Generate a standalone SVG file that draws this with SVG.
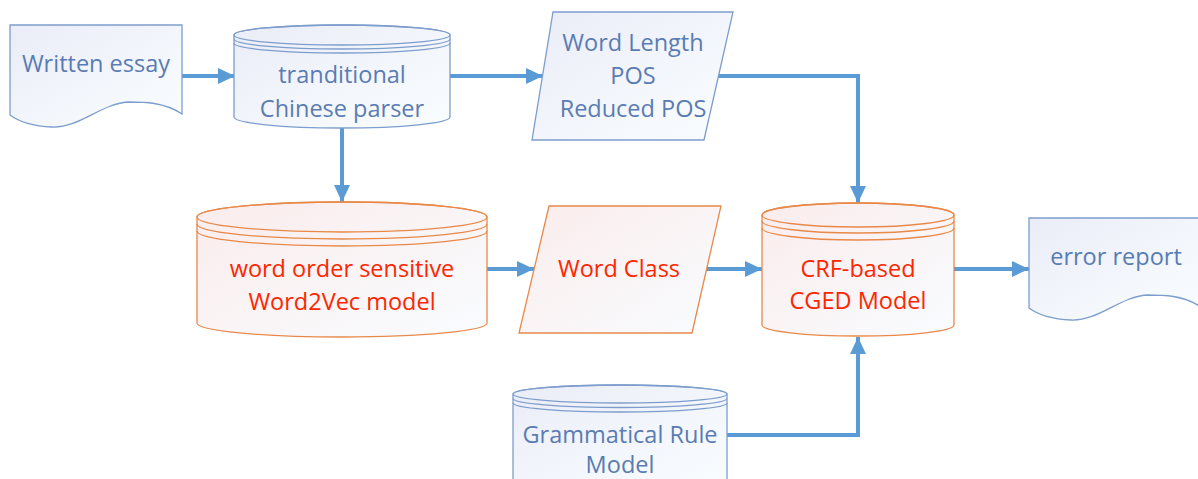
<svg xmlns="http://www.w3.org/2000/svg" width="1198" height="479" viewBox="0 0 1198 479">
<defs>
<linearGradient id="gb" x1="0" y1="0" x2="1" y2="1"><stop offset="0" stop-color="#EAEDF7"/><stop offset="1" stop-color="#FAFDFF"/></linearGradient>
<linearGradient id="go" x1="0" y1="0" x2="1" y2="1"><stop offset="0" stop-color="#FBECEC"/><stop offset="1" stop-color="#F8FCFF"/></linearGradient>
<marker id="ah" markerUnits="userSpaceOnUse" markerWidth="18" markerHeight="16" refX="17" refY="8" orient="auto"><path d="M0,0 L17,8 L0,16 z" fill="#5B9BD5"/></marker>
<style>
.b{fill:url(#gb);stroke:#7D9DCC;stroke-width:1.3}
.o{fill:url(#go);stroke:#E8894A;stroke-width:1.3}
.bl{fill:none;stroke:#7D9DCC;stroke-width:1.3}
.ol{fill:none;stroke:#E8894A;stroke-width:1.3}
.tb{font-family:"Open Sans","Liberation Sans",sans-serif;font-size:23.5px;fill:#5A7CB2;text-anchor:middle}
.tr{font-family:"Open Sans","Liberation Sans",sans-serif;font-size:23.5px;fill:#FF2600;text-anchor:middle}
.c{fill:none;stroke:#5B9BD5;stroke-width:4;marker-end:url(#ah)}
</style>
</defs>
<g id="connectors">
<path class="c" d="M182,76 H235"/>
<path class="c" d="M342,128 V202"/>
<path class="c" d="M450,76 H543"/>
<path class="c" d="M718,76 H858 V203"/>
<path class="c" d="M487,269 H534"/>
<path class="c" d="M706,269 H762"/>
<path class="c" d="M954,269 H1029"/>
<path class="c" d="M727,435 H858 V337"/>
</g>
<g id="written-essay">
<path class="b" d="M10,25 H182 V114 C164,102 144,102 128,102 C100,104 80,128 52,127 C30,126 18,121 10,115 Z"/>
<text class="tb" x="96" y="72">Written essay</text>
</g>
<g id="parser">
<path class="b" d="M234,35 V117 A108,11 0 0 0 450,117 V35 A108,10 0 0 0 234,35 Z"/>
<ellipse class="bl" cx="342" cy="35" rx="108" ry="10"/>
<path class="bl" d="M234,39 A108,10 0 0 0 450,39 M234,43 A108,10 0 0 0 450,43"/>
<text class="tb" x="342" y="83">tranditional</text>
<text class="tb" x="342" y="117">Chinese parser</text>
</g>
<g id="features">
<polygon class="b" points="553,12 733,12 704,140 532,140"/>
<text class="tb" x="633" y="51">Word Length</text>
<text class="tb" x="633" y="84">POS</text>
<text class="tb" x="633" y="117">Reduced POS</text>
</g>
<g id="word2vec">
<path class="o" d="M197,217 V323 A145,14 0 0 0 487,323 V217 A145,15 0 0 0 197,217 Z"/>
<ellipse class="ol" cx="342" cy="217" rx="145" ry="15"/>
<path class="ol" d="M197,224 A145,15 0 0 0 487,224 M197,231 A145,15 0 0 0 487,231"/>
<text class="tr" x="342" y="277">word order sensitive</text>
<text class="tr" x="342" y="310">Word2Vec model</text>
</g>
<g id="word-class">
<polygon class="o" points="549,206 721,206 692,333 519,333"/>
<text class="tr" x="619" y="277">Word Class</text>
</g>
<g id="cged">
<path class="o" d="M762,215 V325 A96,11 0 0 0 954,325 V215 A96,12 0 0 0 762,215 Z"/>
<ellipse class="ol" cx="858" cy="215" rx="96" ry="12"/>
<path class="ol" d="M762,221 A96,12 0 0 0 954,221 M762,228 A96,12 0 0 0 954,228"/>
<text class="tr" x="858" y="277">CRF-based</text>
<text class="tr" x="858" y="309">CGED Model</text>
</g>
<g id="error-report">
<path class="b" d="M1029,218 H1201 V307 C1183,295 1163,295 1147,295 C1119,297 1099,321 1071,320 C1049,319 1037,314 1029,308 Z"/>
<text class="tb" x="1116" y="265">error report</text>
</g>
<g id="grammar">
<path class="b" d="M513,394 V490 H727 V394 A107,9 0 0 0 513,394 Z"/>
<ellipse class="bl" cx="620" cy="394" rx="107" ry="9"/>
<path class="bl" d="M513,398.5 A107,9 0 0 0 727,398.5 M513,403 A107,9 0 0 0 727,403"/>
<text class="tb" x="620" y="443">Grammatical Rule</text>
<text class="tb" x="620" y="473">Model</text>
</g>
</svg>
